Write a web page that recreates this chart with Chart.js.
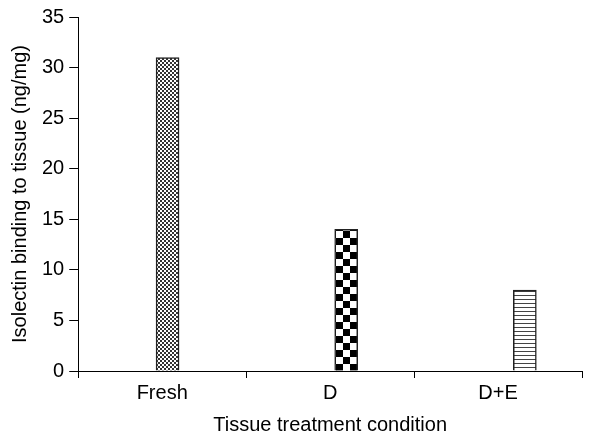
<!DOCTYPE html>
<html>
<head>
<meta charset="utf-8">
<script src="https://cdn.jsdelivr.net/npm/chart.js@4"></script>
<style>
  html, body { margin: 0; padding: 0; background: #fff; }
  #wrap { width: 616px; height: 437px; }
</style>
</head>
<body>
<div id="wrap"><canvas id="bindingChart"></canvas></div>
<script>
const categories = ['Fresh', 'D', 'D+E'];
const bindingValues = [31, 14, 8];
const yTicks = [0, 5, 10, 15, 20, 25, 30, 35];

// fill patterns like the old excel bars
function makePattern(kind) {
    const c = document.createElement('canvas');
    const g = c.getContext('2d');
    if (kind === 'fine') {
        c.width = 4; c.height = 4;
        g.fillStyle = '#fff'; g.fillRect(0, 0, 4, 4);
        g.fillStyle = '#333';
        g.fillRect(0, 0, 2, 2);
        g.fillRect(2, 2, 2, 2);
    } else if (kind === 'coarse') {
        c.width = 14; c.height = 14;
        g.fillStyle = '#fff'; g.fillRect(0, 0, 14, 14);
        g.fillStyle = '#000';
        g.fillRect(0, 0, 7, 7);
        g.fillRect(7, 7, 7, 7);
    } else {
        c.width = 4; c.height = 4;
        g.fillStyle = '#fff'; g.fillRect(0, 0, 4, 4);
        g.fillStyle = '#444';
        g.fillRect(0, 3, 4, 1);
    }
    return g.createPattern(c, 'repeat');
}

const fills = [makePattern('fine'), makePattern('coarse'), makePattern('stripes')];
const font = (size) => ({ family: "'Liberation Sans', Arial, sans-serif", size: size });

const ctx = document.getElementById('bindingChart').getContext('2d');
const chart = new Chart(ctx, {
    type: 'bar',
    data: {
        labels: categories,
        datasets: [{
            data: bindingValues.map((v, i) => ({ x: i, y: v })),
            xAxisID: 'xBars',
            backgroundColor: fills,
            borderColor: '#222',
            borderWidth: 1.5,
            barThickness: 23
        }]
    },
    options: {
        responsive: true,
        maintainAspectRatio: false,
        animation: false,
        layout: { padding: { top: 17, right: 34, left: 4, bottom: 0 } },
        plugins: {
            legend: { display: false },
            tooltip: { enabled: false }
        },
        scales: {
            x: {
                type: 'category',
                offset: true,
                grid: {
                    offset: true,
                    drawOnChartArea: false,
                    tickLength: 7,
                    color: '#000'
                },
                border: { color: '#000', width: 1 },
                ticks: { color: '#000', font: font(20), padding: 3 },
                title: {
                    display: true,
                    text: 'Tissue treatment condition',
                    color: '#000',
                    font: font(20),
                    padding: { top: 5, bottom: 0 }
                }
            },
            // the bars in the original sit a little right of the category centres
            xBars: {
                type: 'linear',
                display: false,
                offset: false,
                min: -0.5,
                max: 2.32
            },
            y: {
                min: 0,
                max: 35,
                afterBuildTicks: (axis) => {
                    axis.ticks = yTicks.map(v => ({ value: v }));
                },
                grid: {
                    drawOnChartArea: false,
                    tickLength: 9,
                    color: '#000'
                },
                border: { color: '#000', width: 1 },
                ticks: { color: '#000', font: font(20), padding: 5 },
                title: {
                    display: true,
                    text: 'Isolectin binding to tissue (ng/mg)',
                    color: '#000',
                    font: font(20),
                    padding: { top: 4, bottom: 5 }
                }
            }
        }
    }
});
</script>
</body>
</html>
